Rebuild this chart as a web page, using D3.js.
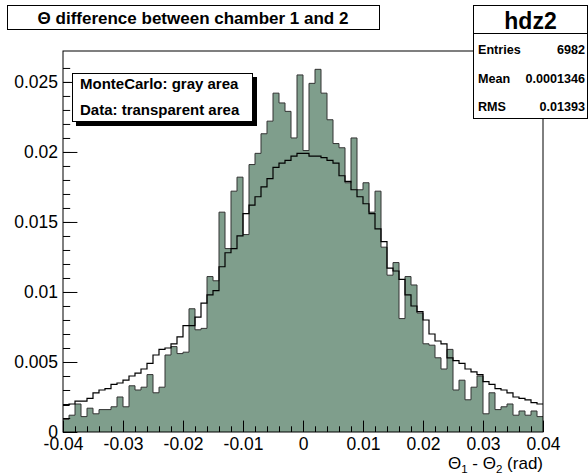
<!DOCTYPE html>
<html>
<head>
<meta charset="utf-8">
<script src="https://cdn.jsdelivr.net/npm/d3@7"></script>
<style>
  body { margin: 0; background: #fff; }
  text { font-family: "Liberation Sans", Arial, Helvetica, sans-serif; }
</style>
</head>
<body>
<div id="graph"></div>
<script>
var w = 588
var h = 475

// histogram binning: 80 bins from -0.04 to 0.04
var xMin = -0.04, xMax = 0.04, nBins = 80
var binWidth = (xMax - xMin) / nBins

// data (transparent, black outline)
var dataValues = [
  0.0019, 0.0020, 0.0022, 0.0022, 0.0024, 0.0028, 0.0030, 0.0031, 0.0034, 0.0035,
  0.0037, 0.0040, 0.0042, 0.0045, 0.0049, 0.0055, 0.0059, 0.0060, 0.0063, 0.0068,
  0.0076, 0.0076, 0.0082, 0.0092, 0.0098, 0.0101, 0.0118, 0.0128, 0.0131, 0.0140,
  0.0156, 0.0162, 0.0168, 0.0175, 0.0181, 0.0189, 0.0192, 0.0194, 0.0197, 0.0199,
  0.0199, 0.0197, 0.0197, 0.0196, 0.0194, 0.0192, 0.0183, 0.0179, 0.0173, 0.0168,
  0.0163, 0.0156, 0.0145, 0.0136, 0.0117, 0.0115, 0.0109, 0.0098, 0.0090, 0.0086,
  0.0080, 0.0070, 0.0065, 0.0063, 0.0053, 0.0051, 0.0049, 0.0045, 0.0043, 0.0041,
  0.0036, 0.0034, 0.0031, 0.0030, 0.0028, 0.0025, 0.0024, 0.0023, 0.0021, 0.0020
]

// MonteCarlo (gray filled)
var mcValues = [
  0.0009, 0.0012, 0.0020, 0.0011, 0.0017, 0.0013, 0.0016, 0.0016, 0.0018, 0.0025,
  0.0018, 0.0033, 0.0030, 0.0032, 0.0041, 0.0028, 0.0032, 0.0055, 0.0061, 0.0056,
  0.0057, 0.0088, 0.0073, 0.0074, 0.0111, 0.0108, 0.0157, 0.0131, 0.0172, 0.0182,
  0.0141, 0.0191, 0.0199, 0.0213, 0.0222, 0.0242, 0.0235, 0.0229, 0.0210, 0.0255,
  0.0201, 0.0249, 0.0259, 0.0242, 0.0223, 0.0206, 0.0203, 0.0178, 0.0210, 0.0173,
  0.0178, 0.0157, 0.0172, 0.0132, 0.0112, 0.0121, 0.0081, 0.0111, 0.0105, 0.0085,
  0.0063, 0.0062, 0.0053, 0.0045, 0.0059, 0.0030, 0.0037, 0.0023, 0.0032, 0.0040,
  0.0013, 0.0028, 0.0016, 0.0018, 0.0020, 0.0012, 0.0015, 0.0012, 0.0015, 0.0011
]

var xTickValues = [-0.04, -0.03, -0.02, -0.01, 0, 0.01, 0.02, 0.03, 0.04]
var xTickLabels = ["-0.04", "-0.03", "-0.02", "-0.01", "0", "0.01", "0.02", "0.03", "0.04"]
var yTickValues = [0, 0.005, 0.01, 0.015, 0.02, 0.025]
var yTickLabels = ["0", "0.005", "0.01", "0.015", "0.02", "0.025"]

var statsNames = ["Entries", "Mean", "RMS"]
var statsValues = ["6982", "0.0001346", "0.01393"]
var legendLines = ["MonteCarlo: gray area", "Data: transparent area"]

var yMax = 0.02721

// frame edges (not "top": that is window.top in a browser)
var frameL = 63, frameR = 543, frameT = 51, frameB = 432

var x = d3.scaleLinear().domain([xMin, xMax]).range([frameL, frameR])
var y = d3.scaleLinear().domain([0, yMax]).range([frameB, frameT])

var svg = d3.select("#graph").append("svg")
    .attr("width", w)
    .attr("height", h)

svg.append("rect").attr("width", w).attr("height", h).attr("fill", "#fff")

// turn bin values into step points (last point closes the final bin)
function stepPoints(vals) {
    var pts = vals.map(function (v, i) { return [xMin + i * binWidth, v] })
    pts.push([xMax, vals[vals.length - 1]])
    return pts
}

var mcPts = stepPoints(mcValues)
var dataPts = stepPoints(dataValues)

var area = d3.area()
    .curve(d3.curveStepAfter)
    .x(function (d) { return x(d[0]) })
    .y0(y(0))
    .y1(function (d) { return y(d[1]) })

var line = d3.line()
    .curve(d3.curveStepAfter)
    .x(function (d) { return x(d[0]) })
    .y(function (d) { return y(d[1]) })

// MC fill + outline
svg.append("path")
    .datum(mcPts)
    .attr("d", area)
    .attr("fill", "#7f9e8c")
    .attr("stroke", "none")

svg.append("path")
    .datum(mcPts)
    .attr("d", line)
    .attr("fill", "none")
    .attr("stroke", "#333")
    .attr("stroke-width", 1)

// data outline
svg.append("path")
    .datum(dataPts)
    .attr("d", line)
    .attr("fill", "none")
    .attr("stroke", "#000")
    .attr("stroke-width", 1.2)

// x axis: major + minor ticks pointing inward
var xMinor = d3.range(-0.04, 0.04001, 0.002)
var xAxisG = svg.append("g").attr("transform", "translate(0," + frameB + ")")
xAxisG.call(d3.axisBottom(x).tickValues(xMinor).tickSize(-5.7).tickFormat(""))
xAxisG.append("g").call(d3.axisBottom(x)
    .tickValues(xTickValues)
    .tickSize(-11.4)
    .tickPadding(6)
    .tickFormat(function (d, i) { return xTickLabels[i] }))
xAxisG.selectAll(".domain").remove()
xAxisG.selectAll("text").attr("font-size", 17.5).attr("fill", "#000")
    .style("font-family", "'Liberation Sans', Arial, sans-serif")
xAxisG.selectAll("line").attr("stroke", "#000")

// y axis
var yMinor = d3.range(0, 0.0270, 0.001)
var yAxisG = svg.append("g").attr("transform", "translate(" + frameL + ",0)")
yAxisG.call(d3.axisLeft(y).tickValues(yMinor).tickSize(-7.2).tickFormat(""))
yAxisG.append("g").call(d3.axisLeft(y)
    .tickValues(yTickValues)
    .tickSize(-14.4)
    .tickPadding(5)
    .tickFormat(function (d, i) { return yTickLabels[i] }))
yAxisG.selectAll(".domain").remove()
yAxisG.selectAll("text").attr("font-size", 17.5).attr("fill", "#000")
    .style("font-family", "'Liberation Sans', Arial, sans-serif")
yAxisG.selectAll("line").attr("stroke", "#000")

// frame box
svg.append("rect")
    .attr("x", frameL).attr("y", frameT)
    .attr("width", frameR - frameL).attr("height", frameB - frameT)
    .attr("fill", "none").attr("stroke", "#000").attr("stroke-width", 1)

// x axis title with subscripts
var xt = svg.append("text")
    .attr("x", frameR).attr("y", 469)
    .attr("text-anchor", "end")
    .attr("font-size", 17)
xt.append("tspan").text("Θ")
xt.append("tspan").text("1").attr("font-size", 11.5).attr("dy", 4)
xt.append("tspan").text(" - Θ").attr("dy", -4)
xt.append("tspan").text("2").attr("font-size", 11.5).attr("dy", 4)
xt.append("tspan").text(" (rad)").attr("dy", -4)

// title box
svg.append("rect")
    .attr("x", 7.5).attr("y", 5.5).attr("width", 372).attr("height", 24)
    .attr("fill", "#fff").attr("stroke", "#000")
svg.append("text")
    .attr("x", 193).attr("y", 23.5)
    .attr("text-anchor", "middle")
    .attr("font-size", 17).attr("font-weight", "bold")
    .text("Θ difference between chamber 1 and 2")

// stats box
var sx = 473.5, sy = 5.5, sw = 114, sh = 113
svg.append("rect")
    .attr("x", sx).attr("y", sy).attr("width", sw).attr("height", sh)
    .attr("fill", "#fff").attr("stroke", "#000")
svg.append("line")
    .attr("x1", sx).attr("x2", sx + sw).attr("y1", 33.5).attr("y2", 33.5)
    .attr("stroke", "#000")
svg.append("text")
    .attr("x", sx + sw / 2).attr("y", 28.5)
    .attr("text-anchor", "middle")
    .attr("font-size", 23).attr("font-weight", "bold")
    .text("hdz2")
var rowY = [53.5, 83, 110.5]
statsNames.forEach(function (n, i) {
    svg.append("text")
        .attr("x", 478).attr("y", rowY[i])
        .attr("font-size", 12.6).attr("font-weight", "bold")
        .text(n)
    svg.append("text")
        .attr("x", 585).attr("y", rowY[i])
        .attr("text-anchor", "end")
        .attr("font-size", 12.6).attr("font-weight", "bold")
        .text(statsValues[i])
})

// legend with shadow
svg.append("rect")
    .attr("x", 76).attr("y", 77).attr("width", 181).attr("height", 49)
    .attr("fill", "#000")
svg.append("rect")
    .attr("x", 72.5).attr("y", 73.5).attr("width", 180).attr("height", 48)
    .attr("fill", "#fff").attr("stroke", "#000")
var legY = [89, 115]
legendLines.forEach(function (t, i) {
    svg.append("text")
        .attr("x", 80).attr("y", legY[i])
        .attr("font-size", 15).attr("font-weight", "bold")
        .text(t)
})
</script>
</body>
</html>
